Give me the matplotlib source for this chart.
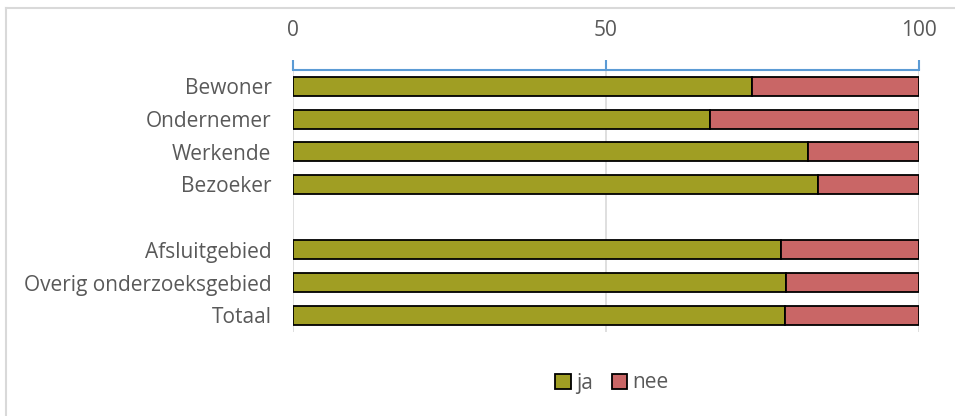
import matplotlib.pyplot as plt
from matplotlib.lines import Line2D

plt.rcParams['font.family'] = ['Open Sans', 'DejaVu Sans']

# Gegevens (percentage ja / nee)
categorieen = ['Bewoner', 'Ondernemer', 'Werkende', 'Bezoeker', '',
               'Afsluitgebied', 'Overig onderzoeksgebied', 'Totaal']
ja = [73.4, 66.6, 82.3, 83.8, None, 78.0, 78.8, 78.6]
nee = [26.6, 33.4, 17.7, 16.2, None, 22.0, 21.2, 21.4]
x_ticks = [0, 50, 100]

groen = '#A09E23'
rood = '#C96666'
grijs = '#595959'
blauw = '#5B9BD5'

fig = plt.figure(figsize=(9.55, 4.16), dpi=100)
ax = fig.add_axes([293 / 955, (416 - 331.7) / 416, (919 - 293) / 955, (331.7 - 70) / 416])

pos = [i for i, v in enumerate(ja) if v is not None]
ja_w = [ja[i] for i in pos]
nee_w = [nee[i] for i in pos]

ax.barh(pos, ja_w, height=0.58, color=groen, edgecolor='black', linewidth=1.3,
        label='ja', zorder=3)
ax.barh(pos, nee_w, left=ja_w, height=0.58, color=rood, edgecolor='black',
        linewidth=1.3, label='nee', zorder=3)

ax.set_ylim(7.5, -0.5)
ax.set_xlim(0, 100)
ax.set_yticks(range(len(categorieen)))
ax.set_yticklabels(categorieen)
ax.set_xticks(x_ticks)

ax.xaxis.tick_top()
ax.tick_params(axis='x', colors=blauw, labelcolor=grijs, labelsize=15,
               length=7, width=1.5, direction='out', pad=14)
ax.tick_params(axis='y', length=0, labelcolor=grijs, labelsize=15, pad=15.5)

for s in ['right', 'bottom', 'left']:
    ax.spines[s].set_visible(False)
ax.spines['top'].set_color(blauw)
ax.spines['top'].set_linewidth(1.5)

ax.grid(axis='x', color='#D9D9D9', linewidth=1.2, zorder=0)
ax.set_axisbelow(True)

# Legenda
leg = fig.legend(loc='center', bbox_to_anchor=(612 / 955, (416 - 383) / 416),
                 ncol=2, frameon=False, fontsize=15, handlelength=0.75,
                 handleheight=0.75, handletextpad=0.25, columnspacing=0.9)
for t in leg.get_texts():
    t.set_color(grijs)

# Rand van de grafiek (alleen boven en links zichtbaar)
fig.add_artist(Line2D([6 / 955, 6 / 955], [0, 1 - 8 / 416], color='#D9D9D9',
                      linewidth=1.5, transform=fig.transFigure))
fig.add_artist(Line2D([6 / 955, 1], [1 - 8 / 416, 1 - 8 / 416], color='#D9D9D9',
                      linewidth=1.5, transform=fig.transFigure))

fig.savefig('out.png', dpi=100)
